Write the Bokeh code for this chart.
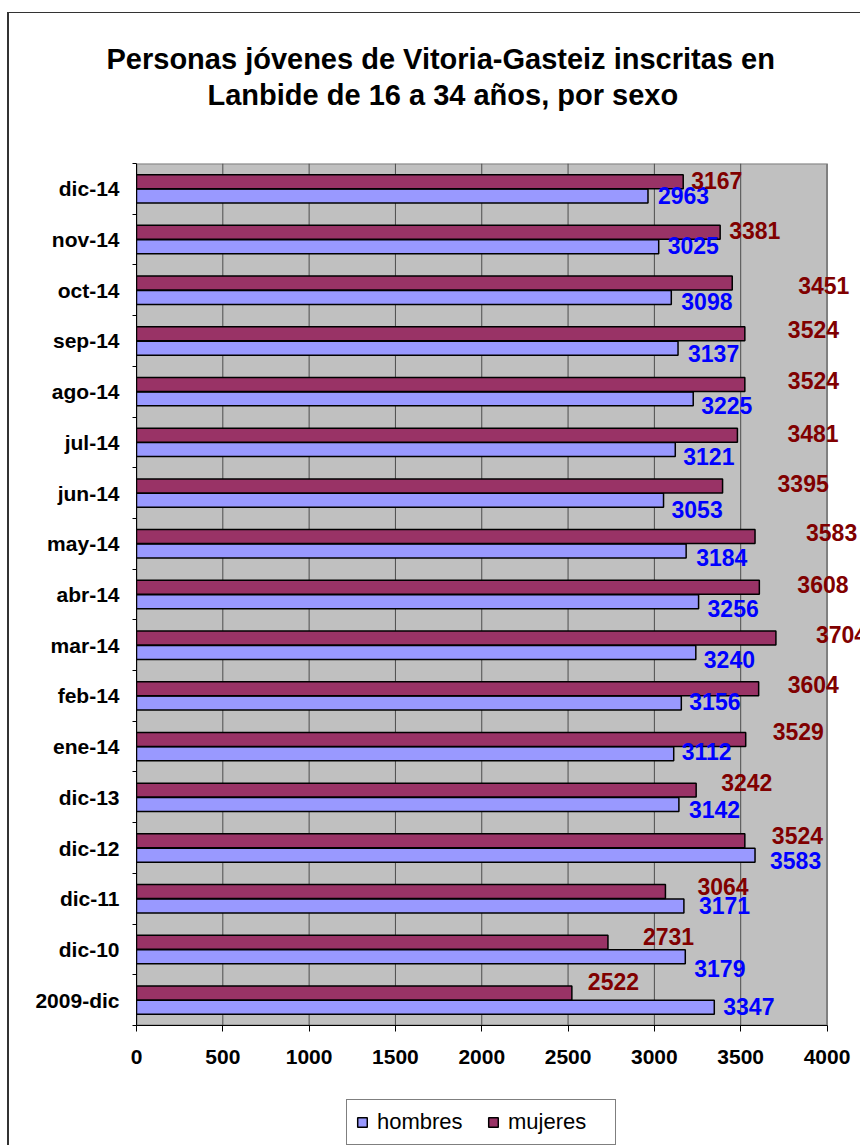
from bokeh.plotting import figure
from bokeh.layouts import column
from bokeh.models import Range1d, FixedTicker, Title, Legend, LegendItem, ColumnDataSource
from bokeh.core.properties import value
from bokeh.embed import file_html
from bokeh.resources import INLINE

# ---- data (bottom to top) ----
categories = ["2009-dic", "dic-10", "dic-11", "dic-12", "dic-13", "ene-14", "feb-14",
              "mar-14", "abr-14", "may-14", "jun-14", "jul-14", "ago-14", "sep-14",
              "oct-14", "nov-14", "dic-14"]
hombres = [3347, 3179, 3171, 3583, 3142, 3112, 3156, 3240, 3256, 3184, 3053, 3121,
           3225, 3137, 3098, 3025, 2963]
mujeres = [2522, 2731, 3064, 3524, 3242, 3529, 3604, 3704, 3608, 3583, 3395, 3481,
           3524, 3524, 3451, 3381, 3167]
x_ticks = [0, 500, 1000, 1500, 2000, 2500, 3000, 3500, 4000]
series_names = ["hombres", "mujeres"]

# label placement (screen px offsets from bar end / bar centre), as in the original
muj_dx = [16, 35, 32, 27, 25, 27, 29, 40, 38, 51, 55, 50, 43, 43, 66, 9, 8]
muj_dy = [-11, -6, -5, -5, -8, -7.5, -4, -3.5, -3, -4, -2, -1.5, -4, -4, 2, -2, -1]
hom_dx = [9, 9, 15, 15, 10, 8, 8, 8, 9, 10, 8, 8, 8, 10, 10, 9, 10]
hom_dy = [-1, 12, 0, 5, 5, -2.5, -1.5, 7.5, 6.5, 7, 9, 6.5, 7, 5.5, 4, -1, -0.5]

FONT = "Liberation Sans"
C_HOM = "#9999FF"
C_MUJ = "#993366"
BAR_H = 0.276
OFF = 0.142

n = len(categories)
centers = [i + 0.5 for i in range(n)]
src = ColumnDataSource(dict(
    cat=categories,
    y_h=[c - OFF for c in centers],
    y_m=[c + OFF for c in centers],
    hombres=hombres, mujeres=mujeres,
    hom_txt=[str(v) for v in hombres], muj_txt=[str(v) for v in mujeres],
    hom_dx=hom_dx, hom_dy=hom_dy, muj_dx=muj_dx, muj_dy=muj_dy,
))

p = figure(width=851, height=1072,
           x_range=Range1d(0, 4194), y_range=Range1d(0, n),
           output_backend="svg", toolbar_location=None,
           min_border_left=127, min_border_right=0, min_border_top=150,
           min_border_bottom=60,
           background_fill_color="white", border_fill_color="white",
           outline_line_color=None,
           title="Personas jóvenes de Vitoria-Gasteiz inscritas en")

p.xgrid.visible = False
p.ygrid.visible = False

# titles (spacer closest to the frame, then line 2, then main title outermost)
p.title.align = "left"
p.title.offset = -30
p.title.text_font = FONT
p.title.text_font_size = "29px"
p.title.text_font_style = "bold"
p.title.text_color = "black"
p.title.standoff = 0
spacer = Title(text=" ", text_font_size="1px", standoff=48)
p.add_layout(spacer, "above")
t2 = Title(text="Lanbide de 16 a 34 años, por sexo", align="left", offset=71,
           text_font=FONT, text_font_size="29px", text_font_style="bold",
           text_color="black", standoff=4)
p.add_layout(t2, "above")

# plot area background
p.quad(left=x_ticks[0], right=x_ticks[-1], bottom=0, top=n,
       fill_color="#C0C0C0", line_color="#808080", line_width=2)
# vertical gridlines
p.segment(x0=x_ticks[1:-1], y0=[0] * (len(x_ticks) - 2),
          x1=x_ticks[1:-1], y1=[n] * (len(x_ticks) - 2),
          line_color="#4D4D4D", line_width=1)

hb = p.hbar(y="y_h", right="hombres", left=0, height=BAR_H, source=src,
            fill_color=C_HOM, line_color="black", line_width=1.5)
mb = p.hbar(y="y_m", right="mujeres", left=0, height=BAR_H, source=src,
            fill_color=C_MUJ, line_color="black", line_width=1.5)

p.text(x="hombres", y="y_h", text="hom_txt", source=src,
       x_offset="hom_dx", y_offset="hom_dy",
       text_font=value(FONT), text_font_style="bold", text_font_size="23px",
       text_color="#0000FF", text_align="left", text_baseline="middle")
p.text(x="mujeres", y="y_m", text="muj_txt", source=src,
       x_offset="muj_dx", y_offset="muj_dy",
       text_font=value(FONT), text_font_style="bold", text_font_size="23px",
       text_color="#800000", text_align="left", text_baseline="middle")

# x axis
xa = p.xaxis[0]
xa.ticker = FixedTicker(ticks=x_ticks)
xa.bounds = (x_ticks[0], x_ticks[-1])
xa.axis_line_color = "black"
xa.major_tick_line_color = "black"
xa.major_tick_out = 6
xa.major_tick_in = 0
xa.minor_tick_line_color = None
xa.major_label_standoff = 18
xa.major_label_text_font = FONT
xa.major_label_text_font_style = "bold"
xa.major_label_text_font_size = "21px"
xa.major_label_text_color = "black"

# y axis
ya = p.yaxis[0]
ya.ticker = FixedTicker(ticks=centers, minor_ticks=list(range(n + 1)))
ya.major_label_overrides = {c: lab for c, lab in zip(centers, categories)}
ya.axis_line_color = "black"
ya.major_tick_out = 0
ya.major_tick_in = 0
ya.minor_tick_out = 4
ya.minor_tick_in = 0
ya.minor_tick_line_color = "black"
ya.major_label_standoff = 13
ya.major_label_text_font = FONT
ya.major_label_text_font_style = "bold"
ya.major_label_text_font_size = "21px"
ya.major_label_text_color = "black"

# legend strip below the chart (its renderers are hidden; only the legend shows)
pl = figure(width=851, height=60, x_range=Range1d(0, 1), y_range=Range1d(0, 1),
            output_backend="svg", toolbar_location=None,
            x_axis_type=None, y_axis_type=None,
            min_border_left=0, min_border_right=0, min_border_top=0,
            min_border_bottom=0, outline_line_color=None,
            background_fill_color="white", border_fill_color="white")
pl.xgrid.visible = False
pl.ygrid.visible = False
lh = pl.hbar(y="y_h", right="hombres", left=0, height=BAR_H, source=src,
             fill_color=C_HOM, line_color="black", line_width=1.5, visible=False)
lm = pl.hbar(y="y_m", right="mujeres", left=0, height=BAR_H, source=src,
             fill_color=C_MUJ, line_color="black", line_width=1.5, visible=False)
legend = Legend(items=[LegendItem(label=series_names[0], renderers=[lh]),
                       LegendItem(label=series_names[1], renderers=[lm])],
                orientation="horizontal", location=(210, 0),
                label_text_font=FONT, label_text_font_size="22px",
                label_text_color="black",
                glyph_width=12, glyph_height=12, label_standoff=9,
                label_width=98, spacing=12, padding=9, margin=0,
                border_line_color="black", border_line_width=1,
                background_fill_color="white", background_fill_alpha=1,
                inactive_fill_alpha=0)
pl.add_layout(legend)

layout = column(p, pl, spacing=0)
layout.styles = {"border-left": "2px solid #333333", "border-top": "1px solid #333333",
                 "margin-top": "12px", "margin-left": "7px"}

open("out.html", "w").write(file_html(layout, INLINE))
